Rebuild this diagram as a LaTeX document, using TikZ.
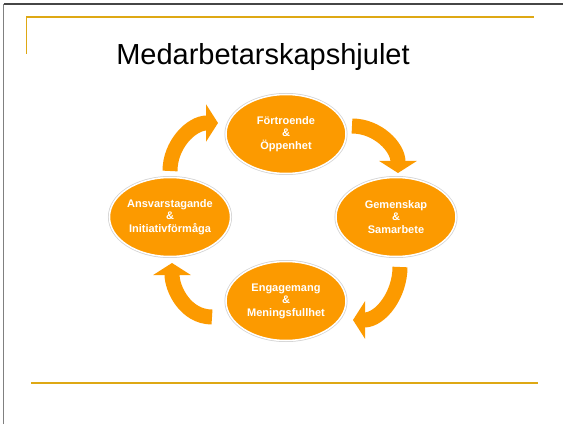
\documentclass[tikz,border=0pt]{standalone}
\usepackage{fontspec}
\setmainfont{Liberation Sans}
\usetikzlibrary{shapes.geometric,arrows.meta}
\definecolor{wheelorange}{RGB}{252,154,0}
\definecolor{gold}{RGB}{222,168,20}
\definecolor{framegray}{RGB}{70,70,70}
\tikzset{
  bubble/.style={ellipse, fill=wheelorange, draw=white, line width=1.5pt,
    preaction={draw=gray!35, line width=3pt},
    minimum width=120pt, minimum height=79pt, inner sep=0pt,
    text=white, align=center,
    font=\fontsize{11}{12.5}\selectfont\bfseries},
  cyclearrow/.style={draw=wheelorange, line width=15pt,
    -{Triangle[width=37pt,length=12pt]}},
  goldline/.style={draw=gold, line width=1.6pt}
}
\begin{document}
\begin{tikzpicture}[x=1pt,y=1pt]
\useasboundingbox (0,0) rectangle (563,424);
\fill[white] (0,0) rectangle (563,424);
% frame
\coordinate (fl) at (3.5,0);
\coordinate (ftl) at (3.5,420);
\coordinate (ftr) at (563,420);
\draw[gray, line width=1.5pt] (fl) -- (ftl);
\draw[framegray, line width=1.5pt] (ftl) -- (ftr);
% gold lines
\coordinate (g1) at (26.5,370);
\coordinate (g2) at (26.5,407);
\coordinate (g3) at (534,407);
\draw[goldline] (g1) -- (g2) -- (g3);
\coordinate (b1) at (31,41);
\coordinate (b2) at (538,41);
\draw[goldline] (b1) -- (b2);
% title
\node[anchor=base, font=\fontsize{29}{35}\selectfont] (title) at (263,359) {Medarbetarskapshjulet};
% ellipses
\node[bubble] (T) at (286,290) {Förtroende\\\&\\Öppenhet};
\node[bubble] (R) at (396,207) {Gemenskap\\\&\\Samarbete};
\node[bubble] (L) at (170,207) {Ansvarstagande\\\&\\Initiativförmåga};
\node[bubble] (B) at (286,123) {Engagemang\\\&\\Meningsfullhet};
% arrows
\coordinate (a1s) at (170,253);
\coordinate (a1e) at (218,301);
\coordinate (a2s) at (352,298);
\coordinate (a2e) at (398,251);
\coordinate (a3s) at (400,157);
\coordinate (a3e) at (353,104);
\coordinate (a4s) at (212,107);
\coordinate (a4e) at (172,161);
\draw[cyclearrow] (a1s) to[out=90,in=180] (a1e);
\draw[cyclearrow] (a2s) to[out=0,in=90] (a2e);
\draw[cyclearrow] (a3s) to[out=-90,in=0] (a3e);
\draw[cyclearrow] (a4s) to[out=180,in=-90] (a4e);
\end{tikzpicture}
\end{document}
